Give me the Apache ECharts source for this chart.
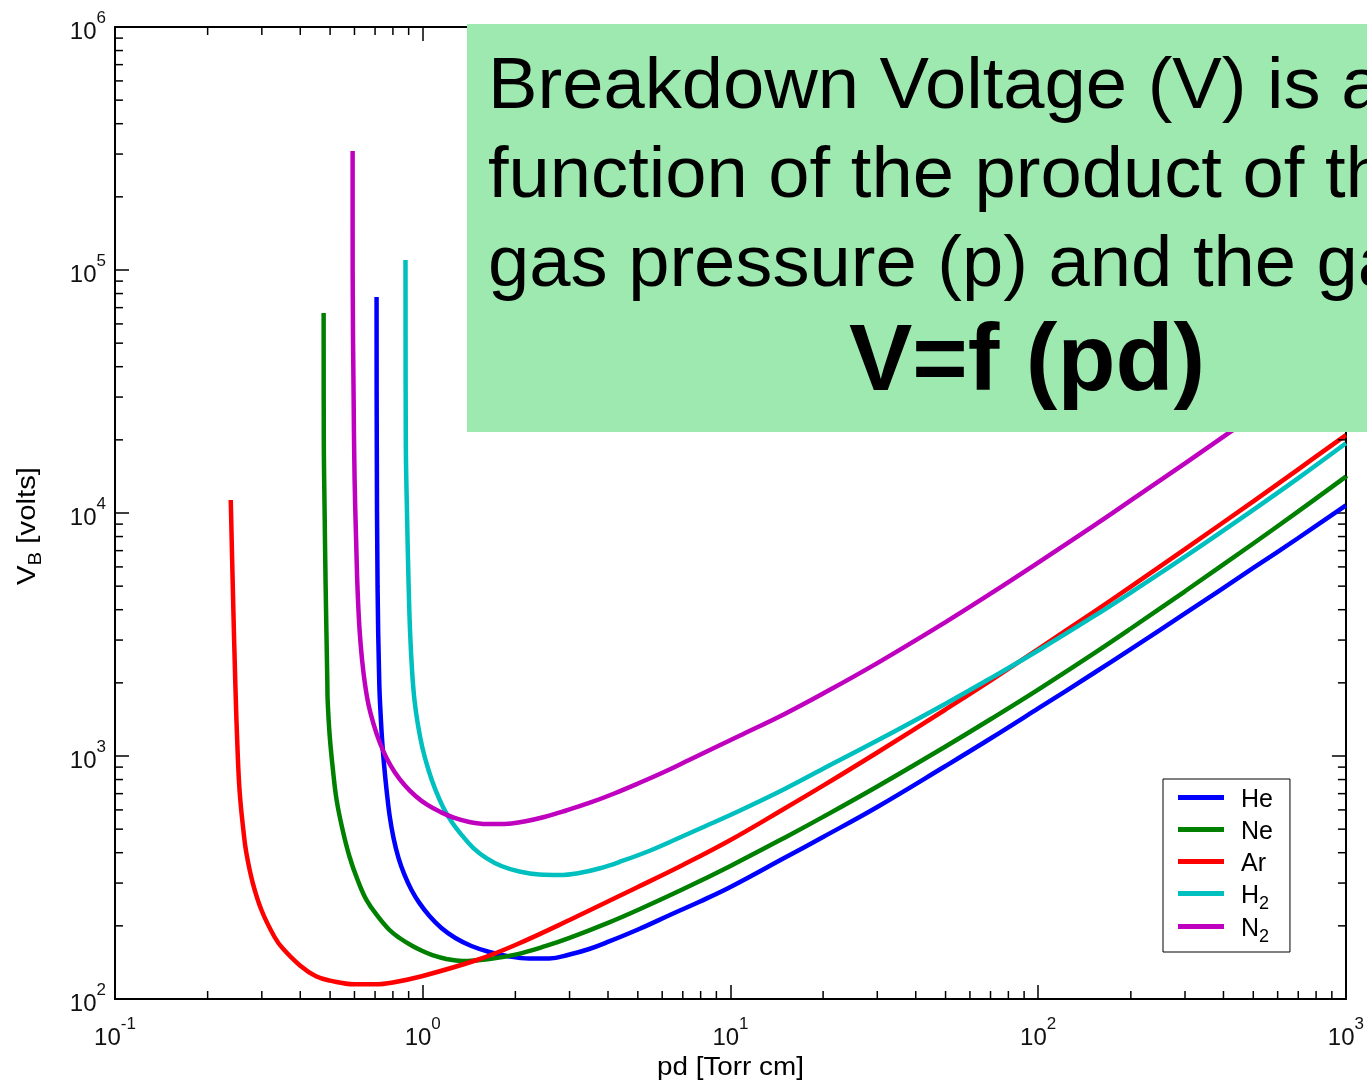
<!DOCTYPE html>
<html>
<head>
<meta charset="utf-8">
<script src="https://cdn.jsdelivr.net/npm/echarts/dist/echarts.min.js"></script>
<style>
html,body{margin:0;padding:0;background:#fff;}
#chart{width:1367px;height:1083px;}
</style>
</head>
<body>
<div id="chart"></div>
<script>
// ---- Data (pd in Torr cm, V in volts) ----
const He_pd = [0.7079,0.709,0.7132,0.7224,0.7294,0.7378,0.7489,0.7629,0.7800,0.8037,0.8345,0.8726,0.9194,0.976,1.0517,1.150,1.277,1.439,1.646,1.911,2.220,2.577,3.0,3.475,4.035,5.05,6.46,7.90,10,15,20,30,50,70,100,150,200,300,500,700,1000];
const He_V  = [77400,20000,5000,2000,1500,1164,918,725,572,460,380,324,281,248,219.6,196,178.2,165.2,156.1,149.6,146.8,146.8,152.4,160.6,172.5,194.1,223.8,250.7,289,381.1,464.2,616.8,909.5,1180,1569,2175,2756,3859,5939,7891,10740];

const Ne_pd = [0.4764,0.477,0.480,0.4836,0.4898,0.4909,0.4983,0.5096,0.5250,0.5492,0.5786,0.6142,0.6569,0.7132,0.780,0.8407,0.926,0.998,1.075,1.194,1.346,1.646,2,2.5,3,4,5,7,10,15,20,30,50,70,100,150,200,300,500,700,1000];
const Ne_V  = [66500,20000,10000,5000,2000,1700,1220,901,659,496,384,309,255,219.6,192.3,178.2,165.2,157.6,151.7,146.1,143.3,146.1,152.3,164.9,178.4,205.7,232.4,282.8,352.9,461.2,561.6,748.9,1094,1416,1876,2619,3347,4763,7490,10160,14120];

const Ar_pd = [0.2378,0.2414,0.2460,0.2506,0.2544,0.2611,0.2671,0.2804,0.30,0.33,0.35,0.40,0.45,0.50,0.60,0.70,0.80,1,1.5,2,3,5,7,10,15,20,30,50,70,100,150,200,300,500,700,1000];
const Ar_V  = [11310,5000,2000,1000,700,500,400,300,230.2,179.9,162,137,124,119,115,115,117,124.4,144.7,166.8,211.4,289,356,451,608,755,1034,1554,2045,2754,3885,4978,7103,11170,15130,20920];

const H2_pd = [0.879,0.881,0.889,0.899,0.9091,0.923,0.9401,0.9652,0.998,1.044,1.1,1.168,1.249,1.346,1.461,1.61,1.801,2.06,2.392,2.777,3.223,3.744,4.446,5.44,6.46,7.90,10.66,15,20,30,50,70,100,150,200,300,500,700,1000];
const H2_V  = [109900,20000,10000,5300,3300,2259,1700,1341,1079,876,725,611,530,469,418,380,352.6,334.7,325.3,323.8,330,344.4,369.8,406.5,446.9,500.8,593.9,731.6,885.8,1157,1641,2088,2718,3726,4708,6610,10300,13910,19360];

const N2_pd = [0.5918,0.592,0.5962,0.6007,0.6075,0.6142,0.6234,0.6352,0.6498,0.6668,0.6922,0.724,0.7629,0.81,0.8726,0.9473,1.036,1.142,1.268,1.418,1.61,1.842,2.138,2.483,2.927,3.475,4.19,5.05,6.084,7.335,8.841,10.66,15,20,30,50,70,100,150,200,300,500,700,1000];
const N2_V  = [309000,100000,30000,13670,7743,4821,3300,2484,1960,1622,1354,1142,981,859.6,760,684.6,628.7,588.3,555.8,535.1,525.1,525.1,537.7,561,596.7,640.8,701.1,774.3,859.6,962.8,1079,1209,1490,1808,2412,3556,4655,6250,8790,11260,16010,25120,33850,46690];

const gasNames  = ['He','Ne','Ar','H2','N2'];
const gasColors = ['#0000FF','#008000','#FF0000','#00BFBF','#BF00BF'];

const minorMult = [2,3,4,5,6,7,8,9];
const xDecades = [0.1,1,10,100];
const yDecades = [100,1000,10000,100000];

const boxLines = ['Breakdown Voltage (V) is a', 'function of the product of the', 'gas pressure (p) and the gap (d)'];
const boxFormula = 'V=f (pd)';
const xName = 'pd [Torr cm]';

const FONT = '"Liberation Sans", Arial, Helvetica, sans-serif';

function zip(a,b){ return a.map((v,i)=>[v,b[i]]); }
const seriesData = [zip(He_pd,He_V), zip(Ne_pd,Ne_V), zip(Ar_pd,Ar_V), zip(H2_pd,H2_V), zip(N2_pd,N2_V)];

function expLabel(v){
  const e = Math.round(Math.log10(v));
  return '{b|10}{e|' + e + '}';
}
const labelRich = {
  b:{fontSize:24, lineHeight:34, verticalAlign:'bottom', color:'#111', fontFamily:FONT},
  e:{fontSize:17, lineHeight:17, verticalAlign:'top', color:'#111', fontFamily:FONT}
};

const axisCommon = {
  type:'log', logBase:10,
  axisLine:{show:true, lineStyle:{color:'#000', width:2}},
  axisTick:{show:true, inside:true, length:14, lineStyle:{color:'#000', width:1.5}},
  splitLine:{show:false},
  minorTick:{show:false}
};

const chart = echarts.init(document.getElementById('chart'), null, {renderer:'canvas'});

const option = {
  animation:false,
  backgroundColor:'#fff',
  grid:{left:115, right:19, top:27, bottom:84, containLabel:false},
  xAxis:[
    Object.assign({}, axisCommon, {position:'bottom', min:0.1, max:1000,
      axisLabel:{show:true, margin:17, formatter:expLabel, rich:labelRich}}),
    Object.assign({}, axisCommon, {position:'top', min:0.1, max:1000, axisLabel:{show:false}})
  ],
  yAxis:[
    Object.assign({}, axisCommon, {position:'left', min:100, max:1000000,
      axisLabel:{show:true, margin:9, formatter:expLabel, rich:labelRich}}),
    Object.assign({}, axisCommon, {position:'right', min:100, max:1000000, axisLabel:{show:false}})
  ],
  legend:{
    orient:'vertical', left:1163, top:779,
    backgroundColor:'#fff', borderColor:'#000', borderWidth:1, borderRadius:0,
    padding:[6,17,6,15],
    itemWidth:46, itemHeight:5, itemGap:1,
    icon:'rect',
    data:gasNames,
    formatter:function(name){
      if (name.endsWith('2')) return '{n|' + name.slice(0,-1) + '}{s|2}';
      return '{n|' + name + '}';
    },
    textStyle:{
      fontFamily:FONT, fontSize:25, color:'#000',
      rich:{
        n:{fontSize:25, lineHeight:25, padding:[3,0,3,12], verticalAlign:'top', fontFamily:FONT, color:'#000'},
        s:{fontSize:18, lineHeight:16, padding:[14,0,0,0], verticalAlign:'top', fontFamily:FONT, color:'#000'}
      }
    }
  },
  series: gasNames.map((n,i)=>({
    name:n, type:'line', xAxisIndex:0, yAxisIndex:0,
    data:seriesData[i], showSymbol:false, symbol:'none',
    smooth:0.4, clip:true,
    lineStyle:{color:gasColors[i], width:4.5},
    itemStyle:{color:gasColors[i]},
    z:2+i
  }))
};
chart.setOption(option);

// minor ticks placed through the axes' own scales
const xl = chart.convertToPixel({xAxisIndex:0}, 0.1);
const xr = chart.convertToPixel({xAxisIndex:0}, 1000);
const yb = chart.convertToPixel({yAxisIndex:0}, 100);
const yt = chart.convertToPixel({yAxisIndex:0}, 1000000);
const els = [];
const ML = 8;
function tick(x1,y1,x2,y2){ els.push({type:'line', silent:true, z:5, shape:{x1:x1,y1:y1,x2:x2,y2:y2}, style:{stroke:'#000', lineWidth:1.5}}); }
xDecades.forEach(d=>minorMult.forEach(m=>{
  const px = chart.convertToPixel({xAxisIndex:0}, d*m);
  tick(px, yb, px, yb-ML); tick(px, yt, px, yt+ML);
}));
yDecades.forEach(d=>minorMult.forEach(m=>{
  const py = chart.convertToPixel({yAxisIndex:0}, d*m);
  tick(xl, py, xl+ML, py); tick(xr, py, xr-ML, py);
}));

// axis names
els.push({type:'text', silent:true, z:10, x:(xl+xr)/2, y:1068, scaleX:1.07,
  style:{text:xName, fontSize:26, fontFamily:FONT, fill:'#000', align:'center', verticalAlign:'middle'}});
els.push({type:'text', silent:true, z:10, x:30, y:526, rotation:Math.PI/2, scaleX:1.13,
  style:{text:'{v|V}{s|B}{v| [volts]}', align:'center', verticalAlign:'middle',
    rich:{
      v:{fontSize:26, lineHeight:30, verticalAlign:'top', fontFamily:FONT, fill:'#000', color:'#000'},
      s:{fontSize:18, lineHeight:18, padding:[12,0,0,0], verticalAlign:'bottom', fontFamily:FONT, fill:'#000', color:'#000'}
    }}});

// green annotation box
els.push({type:'rect', silent:true, z:100, shape:{x:467, y:24, width:920, height:408}, style:{fill:'#9DE9B0'}});
const lineY = [88, 177, 266];
boxLines.forEach((t,i)=>{
  els.push({type:'text', silent:true, z:101, x:488, y:lineY[i], scaleX:1.03,
    style:{text:t, fontSize:72, fontFamily:FONT, fill:'#000', align:'left', verticalAlign:'middle'}});
});
els.push({type:'text', silent:true, z:101, x:1027, y:364,
  style:{text:boxFormula, fontSize:95, fontWeight:'bold', fontFamily:FONT, fill:'#000', align:'center', verticalAlign:'middle'}});

chart.setOption({graphic:{elements:els}});
</script>
</body>
</html>
